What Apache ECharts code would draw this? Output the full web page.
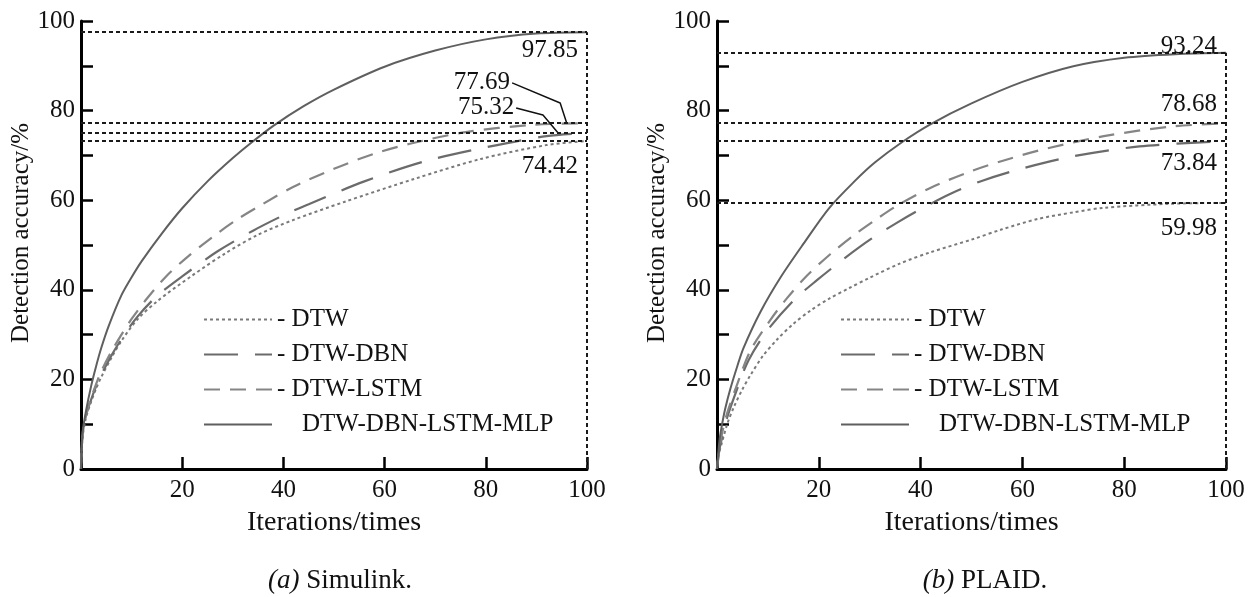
<!DOCTYPE html>
<html lang="en">
<head>
    <meta charset="UTF-8">
    <title>Detection accuracy</title>
    <script src="https://cdn.jsdelivr.net/npm/echarts@6/dist/echarts.min.js"></script>
    <style>
        html, body {
            margin: 0;
            padding: 0;
            background: #fff;
        }

        #main {
            width: 1256px;
            height: 597px;
        }
    </style>
</head>
<body>
<div id="main"></div>

<script type="text/javascript">
    const FONT = '"Liberation Serif", "Times New Roman", serif';

    const names = ['DTW', 'DTW-DBN', 'DTW-LSTM', 'DTW-DBN-LSTM-MLP'];

    // (a) Simulink  [iteration, accuracy]
    const simDtw = [[0, 0], [0.3, 7], [1, 11.5], [2, 15], [3, 18], [4, 20.5], [6, 24.8], [8, 28.6], [11, 33.2], [15, 37.4],
        [22, 43.2], [28.6, 48.2], [35, 52.3], [42, 55.6], [52, 59.6], [66, 64.8], [79, 69.2], [92, 72.3], [100, 73.2]];
    const simDbn = [[0, 0], [0.3, 7.5], [1, 12], [2, 15.5], [3, 18.5], [4, 21], [6, 25.3], [8, 29], [11, 33.8], [15, 38.6],
        [20, 43], [27, 48.6], [34, 53.2], [40.5, 56.9], [45, 59.1], [56, 64.2], [68, 68.7], [80, 71.8], [92, 74.3], [100, 75]];
    const simLstm = [[0, 0], [0.3, 7.5], [1, 12], [2, 15.8], [3, 19], [4, 21.8], [6, 26.2], [8, 30], [10, 33.5], [13, 38],
        [17, 43.2], [21, 47.3], [26, 51.8], [31, 55.8], [36, 59.2], [42, 63], [50, 67], [58, 70.4], [65, 72.6], [76, 75.2],
        [89, 76.8], [100, 77.2]];
    const simMlp = [[0, 0], [0.3, 8], [1, 13], [2, 18.5], [3, 23], [4, 27], [5.5, 32], [8, 38.8], [10, 42.8], [12, 46.4],
        [16, 52.6], [20, 58.2], [25, 64.2], [30, 69.4], [33.4, 72.6], [38, 76.6], [44, 81], [50, 84.7], [60, 89.8], [70, 93.4],
        [80, 95.9], [90, 97.2], [100, 97.5]];

    // (b) PLAID
    const plaidDtw = [[0, 0], [0.3, 3], [1, 6], [2, 10], [3.3, 13.8], [5, 17.8], [6.6, 21], [9, 25.2], [11.8, 28.9], [15, 32.4],
        [18.4, 35.4], [22, 38], [26, 40.4], [30, 42.7], [36, 45.9], [42, 48.4], [50, 51.2], [56, 53.5], [63, 55.8], [70, 57.3],
        [76, 58.3], [89, 59.2], [100, 59.4]];
    const plaidDbn = [[0, 0], [0.5, 4.5], [1, 7], [2, 11.5], [4, 18], [6.2, 24.3], [9.8, 30.8], [15.1, 37.7], [19.7, 42.2],
        [24.9, 46.9], [30.2, 51.3], [35.4, 55], [40, 58], [46, 61.5], [52, 64.3], [60, 67.1], [70, 69.8], [83, 72], [100, 73.2]];
    const plaidLstm = [[0, 0], [0.5, 5], [1, 8], [2, 12.5], [4, 19], [6.6, 26.5], [10.5, 33.3], [13.8, 38.2], [17.7, 43.2],
        [22.3, 48], [26.9, 52.2], [31.5, 55.9], [36, 59.2], [42, 62.8], [50, 66.5], [57, 69.1], [65, 71.6], [76, 74.3],
        [89, 76.4], [100, 77.2]];
    const plaidMlp = [[0, 0], [0.5, 6.5], [1, 10], [1.6, 13.4], [2.6, 17.8], [4, 23], [5.2, 27], [8.5, 35], [12.5, 42.8],
        [17, 50.3], [22, 58.2], [27, 64.2], [31, 68.4], [36.4, 73], [42, 77], [50, 81.6], [60, 86.4], [70, 89.9], [80, 91.8],
        [90, 92.6], [100, 92.9]];

    // dotted reference levels and their printed values
    const simLevels = [97.5, 77.2, 75.0, 73.2];
    const simLevelText = ['97.85', '77.69', '75.32', '74.42'];
    const plaidLevels = [92.9, 77.2, 73.2, 59.4];
    const plaidLevelText = ['93.24', '78.68', '73.84', '59.98'];

    // leader lines for the two crowded labels of (a)
    const leaderA = [[85.2, 86.2], [94.7, 81.7], [96.0, 77.2]];
    const leaderB = [[86.0, 80.6], [91.3, 79.0], [94.3, 75.0]];

    const styles = {
        'DTW': {color: '#7a7a7a', width: 2, type: [3, 3]},
        'DTW-DBN': {color: '#6b6b6b', width: 2.2, type: [34, 17]},
        'DTW-LSTM': {color: '#858585', width: 2.2, type: [16, 10]},
        'DTW-DBN-LSTM-MLP': {color: '#5f5f5f', width: 2, type: 'solid'}
    };

    const dotted = {color: '#1a1a1a', width: 2, type: [4, 3]};

    function curve(name, data, idx) {
        return {
            name: name,
            type: 'line',
            xAxisIndex: idx,
            yAxisIndex: idx,
            data: data,
            smooth: 0.3,
            symbol: 'none',
            silent: true,
            z: 3,
            lineStyle: styles[name],
            itemStyle: {color: styles[name].color}
        };
    }

    // one dotted level; pos == null means no label on it
    function levelLine(value, text, pos, dist) {
        let item = {yAxis: value};
        if (pos) {
            item.label = {
                show: true,
                formatter: text,
                position: pos,
                distance: dist,
                fontFamily: FONT,
                fontSize: 25,
                color: '#111'
            };
        } else {
            item.label = {show: false};
        }
        return item;
    }

    function levelsSeries(idx, levels, labels) {
        let data = levels.map(function (v, i) {
            return levelLine(v, labels[i][0], labels[i][1], labels[i][2]);
        });
        data.push([{coord: [100, 0]}, {coord: [100, levels[0]]}]);
        return {
            type: 'line',
            xAxisIndex: idx,
            yAxisIndex: idx,
            data: [],
            silent: true,
            markLine: {
                silent: true,
                symbol: ['none', 'none'],
                lineStyle: dotted,
                data: data
            }
        };
    }

    function leader(data, text) {
        return {
            type: 'line',
            xAxisIndex: 0,
            yAxisIndex: 0,
            silent: true,
            symbol: 'circle',
            symbolSize: 0,
            showSymbol: true,
            lineStyle: {color: '#111', width: 1.5},
            itemStyle: {color: '#111'},
            data: data.map(function (p, i) {
                if (i > 0) return p;
                return {
                    value: p,
                    label: {
                        show: true, formatter: text, position: 'left', distance: 2,
                        fontFamily: FONT, fontSize: 25, color: '#111'
                    }
                };
            })
        };
    }

    function xAxis(idx) {
        return {
            type: 'value',
            gridIndex: idx,
            min: 0,
            max: 100,
            interval: 20,
            name: 'Iterations/times',
            nameLocation: 'middle',
            nameGap: 40,
            nameTextStyle: {fontFamily: FONT, fontSize: 28, color: '#111'},
            axisLine: {lineStyle: {color: '#000', width: 3}},
            axisTick: {inside: true, length: 12, lineStyle: {color: '#000', width: 2.5}},
            axisLabel: {
                fontFamily: FONT, fontSize: 25, color: '#111', margin: 9,
                formatter: function (v) {
                    return v === 0 ? '' : v;
                }
            },
            splitLine: {show: false}
        };
    }

    function yAxis(idx) {
        return {
            type: 'value',
            gridIndex: idx,
            min: 0,
            max: 100,
            interval: 10,
            name: 'Detection accuracy/%',
            nameLocation: 'middle',
            nameGap: 46,
            nameRotate: 90,
            nameTextStyle: {fontFamily: FONT, fontSize: 25, color: '#111', padding: [0, 0, 0, 24]},
            axisLine: {lineStyle: {color: '#000', width: 3}},
            axisTick: {inside: true, length: 12, lineStyle: {color: '#000', width: 2.5}},
            axisLabel: {
                fontFamily: FONT, fontSize: 25, color: '#111', margin: 6,
                formatter: function (v) {
                    return v % 20 === 0 ? v : '';
                }
            },
            splitLine: {show: false}
        };
    }

    function legend(left) {
        return {
            data: names,
            orient: 'vertical',
            left: left,
            top: 307,
            padding: 0,
            itemWidth: 68,
            itemHeight: 24,
            itemGap: 10,
            selectedMode: false,
            itemStyle: {color: 'transparent', borderColor: 'transparent', borderWidth: 0, opacity: 0},
            textStyle: {fontFamily: FONT, fontSize: 25, color: '#111'},
            formatter: function (name) {
                return name === 'DTW-DBN-LSTM-MLP' ? '    ' + name : '- ' + name;
            }
        };
    }

    let chart = echarts.init(document.getElementById('main'));
    let option = {
        backgroundColor: '#fff',
        animation: false,
        title: [{
            text: '{i|(a)} Simulink.',
            left: 335,
            top: 562,
            textAlign: 'center',
            textStyle: {
                fontFamily: FONT, fontSize: 27, fontWeight: 'normal', color: '#111',
                rich: {i: {fontFamily: FONT, fontSize: 27, fontStyle: 'italic', color: '#111'}}
            }
        }, {
            text: '{i|(b)} PLAID.',
            left: 980,
            top: 562,
            textAlign: 'center',
            textStyle: {
                fontFamily: FONT, fontSize: 27, fontWeight: 'normal', color: '#111',
                rich: {i: {fontFamily: FONT, fontSize: 27, fontStyle: 'italic', color: '#111'}}
            }
        }],
        legend: [legend(203), legend(840)],
        grid: [
            {left: 81, top: 21, width: 506, height: 448},
            {left: 717, top: 21, width: 509, height: 448}
        ],
        xAxis: [xAxis(0), xAxis(1)],
        yAxis: [yAxis(0), yAxis(1)],
        series: [
            curve('DTW', simDtw, 0),
            curve('DTW-DBN', simDbn, 0),
            curve('DTW-LSTM', simLstm, 0),
            curve('DTW-DBN-LSTM-MLP', simMlp, 0),
            curve('DTW', plaidDtw, 1),
            curve('DTW-DBN', plaidDbn, 1),
            curve('DTW-LSTM', plaidLstm, 1),
            curve('DTW-DBN-LSTM-MLP', plaidMlp, 1),
            levelsSeries(0, simLevels, [
                [simLevelText[0], 'insideEndBottom', [9, 6]],
                [simLevelText[1], null],
                [simLevelText[2], null],
                [simLevelText[3], 'insideEndBottom', [9, 13]]
            ]),
            levelsSeries(1, plaidLevels, [
                [plaidLevelText[0], 'insideEndTop', [9, -6]],
                [plaidLevelText[1], 'insideEndTop', [9, 6]],
                [plaidLevelText[2], 'insideEndBottom', [9, 10]],
                [plaidLevelText[3], 'insideEndBottom', [9, 13]]
            ]),
            leader(leaderA, simLevelText[1]),
            leader(leaderB, simLevelText[2])
        ]
    };
    chart.setOption(option);
</script>
</body>
</html>
